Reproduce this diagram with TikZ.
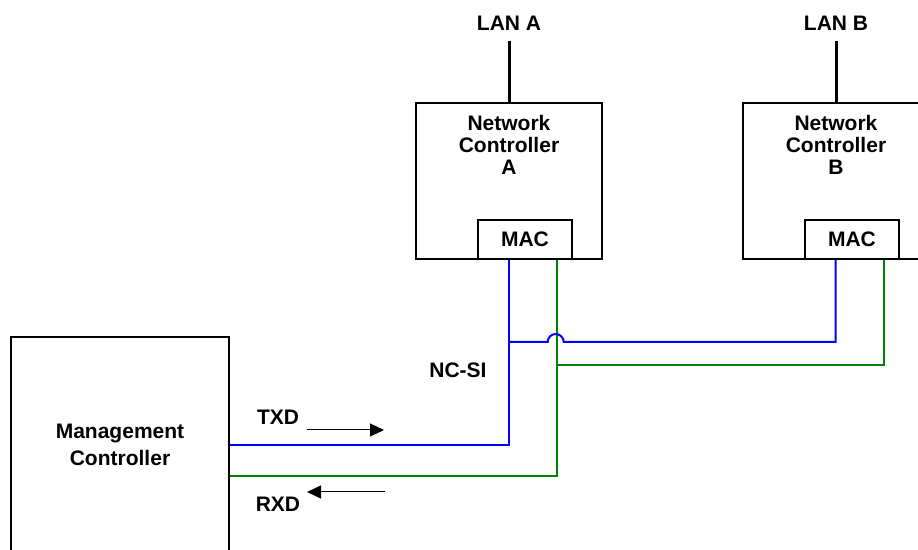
\documentclass[tikz,border=0pt]{standalone}
\usepackage{fontspec}
\setmainfont{Liberation Sans}
\usetikzlibrary{arrows.meta,calc,positioning}
\definecolor{txblue}{RGB}{0,0,255}
\definecolor{rxgreen}{RGB}{0,128,0}
\tikzset{>=Latex,line width=1pt,
  every node/.style={font=\fontsize{10.5}{11}\selectfont\bfseries},
  unit/.style={draw,line width=1pt,inner sep=0pt},
  macbox/.style={draw,line width=1pt,minimum width=47pt,minimum height=19.5pt,inner sep=0pt},
  lanlabel/.style={inner sep=5pt},
  lan/.style={draw,line width=1.5pt},
  txline/.style={draw=txblue,line width=1pt},
  rxline/.style={draw=rxgreen,line width=1pt},
  flow/.style={-{Triangle[length=7pt,width=6.5pt]},line width=.5pt}}

\begin{document}
\begin{tikzpicture}[x=.5pt,y=-.5pt]
\useasboundingbox (0,0) rectangle (918,550);
\node[unit,minimum width=109pt,minimum height=108pt,align=center,
  font=\fontsize{10.5}{13.5}\selectfont\bfseries] (mc) at (120,445) {Management\\Controller};
\node[unit,minimum width=93pt,minimum height=78pt] (ncA) at (509,181) {};
\node[unit,minimum width=93pt,minimum height=78pt] (ncB) at (836,181) {};
\node[align=center] (ncAtext) at (509,145) {Network\\Controller\\A};
\node[align=center] (ncBtext) at (836,145) {Network\\Controller\\B};
\node[macbox] (macA) at (525,239.5) {MAC};
\node[macbox] (macB) at (852,239.5) {MAC};
\node[lanlabel] (lanA) at (509,23) {LAN A};
\node[lanlabel] (lanB) at (836,23) {LAN B};
\node (ncsi) at (458,370) {NC-SI};
\node (txd) at (278,417) {TXD};
\node (rxd) at (278,504) {RXD};
\draw[lan] (lanA.south) -- (ncA.north);
\draw[lan] (lanB.south) -- (ncB.north);
\coordinate (txA) at ($(macA.south west)!.33!(macA.south east)$);
\coordinate (rxA) at ($(macA.south west)!.83!(macA.south east)$);
\coordinate (txB) at ($(macB.south west)!.33!(macB.south east)$);
\coordinate (rxB) at ($(macB.south west)!.83!(macB.south east)$);
\coordinate (txJ) at (txA |- 0,342);
\coordinate (rxJ) at (rxA |- 0,365);
\draw[txline] (mc.east) -| (txA);
\draw[rxline] ($(mc.east)+(0,31)$) -| (rxA);
\draw[txline] (txJ) -- ++(39,0) arc[start angle=180,end angle=0,radius=4pt] -| (txB);
\draw[rxline] (rxJ) -| (rxB);
\coordinate (txS) at (307,430);
\coordinate (txE) at (384,430);
\coordinate (rxS) at (385,492);
\coordinate (rxE) at (307,492);
\draw[flow] (txS) -- (txE);
\draw[flow] (rxS) -- (rxE);
\end{tikzpicture}
\end{document}
